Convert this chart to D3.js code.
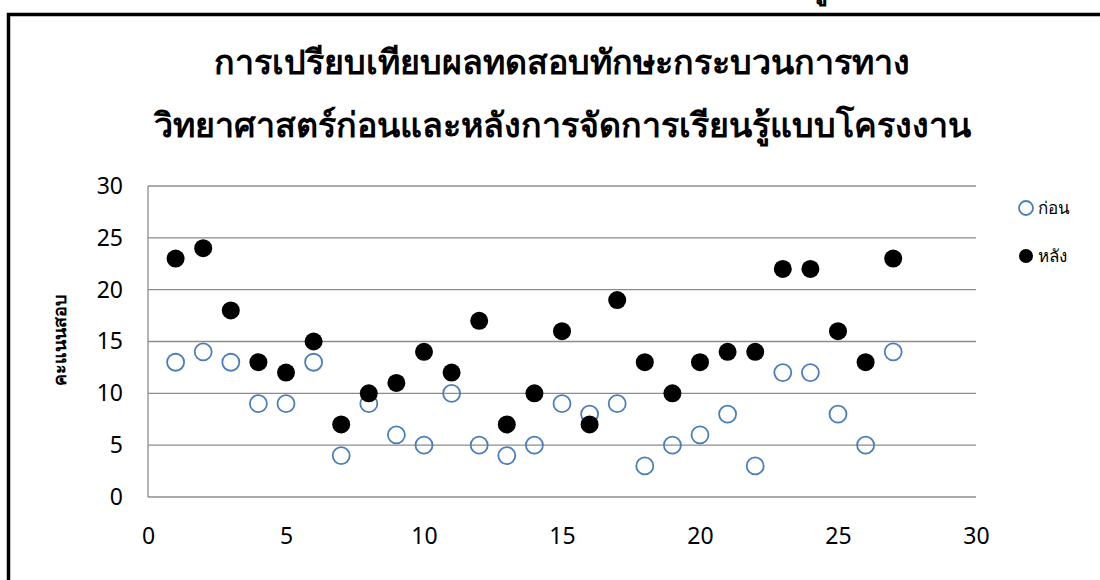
<!DOCTYPE html>
<html lang="th">
<head>
<meta charset="UTF-8">
<title>Scatter</title>
<script src="https://d3js.org/d3.v7.min.js"></script>
<style>
  body { margin: 0; background: #fff; }
  text { font-family: "Noto Sans", "DejaVu Sans", sans-serif; }
</style>
</head>
<body>
<script>
// data
var students = d3.range(1, 28);
var before = [13, 14, 13, 9, 9, 13, 4, 9, 6, 5, 10, 5, 4, 5, 9, 8, 9, 3, 5, 6, 8, 3, 12, 12, 8, 5, 14];
var after  = [23, 24, 18, 13, 12, 15, 7, 10, 11, 14, 12, 17, 7, 10, 16, 7, 19, 13, 10, 13, 14, 14, 22, 22, 16, 13, 23];
var xTicks = [0, 5, 10, 15, 20, 25, 30];
var yTicks = [0, 5, 10, 15, 20, 25, 30];
var seriesNames = ["ก่อน", "หลัง"];
var titleLines = ["การเปรียบเทียบผลทดสอบทักษะกระบวนการทาง", "วิทยาศาสตร์ก่อนและหลังการจัดการเรียนรู้แบบโครงงาน"];

var W = 1100, H = 580;
var svg = d3.select("body").append("svg").attr("width", W).attr("height", H);

// frame (bottom is cut off in the original)
svg.append("path")
    .attr("d", "M8.5,580 V14.5 H1100")
    .attr("fill", "none").attr("stroke", "#000").attr("stroke-width", 3.5);
// bit of text from above the frame, mostly cut off
svg.append("text").attr("x", 812).attr("y", -2).attr("font-size", 30).attr("font-weight", "bold")
    .text("รู้");

var x = d3.scaleLinear().domain([0, 30]).range([148, 976]);
var y = d3.scaleLinear().domain([0, 30]).range([497, 186]);

// title
svg.selectAll(".title").data(titleLines).enter().append("text")
    .attr("x", 562).attr("y", function(d, i) { return 74 + i * 63; })
    .attr("text-anchor", "middle").attr("font-size", 34).attr("font-weight", "bold")
    .text(function(d) { return d; });

// horizontal gridlines
svg.selectAll(".grid").data(yTicks).enter().append("line")
    .attr("x1", x(0)).attr("x2", x(30))
    .attr("y1", function(d) { return y(d); }).attr("y2", function(d) { return y(d); })
    .attr("stroke", "#8c8c8c").attr("stroke-width", 1.3);

svg.append("line").attr("x1", x(0)).attr("x2", x(0)).attr("y1", y(30)).attr("y2", y(0))
    .attr("stroke", "#8c8c8c").attr("stroke-width", 1.3);

// axes
var yAxis = svg.append("g").attr("transform", "translate(" + x(0) + ",0)")
    .call(d3.axisLeft(y).tickValues(yTicks).tickSize(0).tickPadding(25));
var xAxis = svg.append("g").attr("transform", "translate(0," + y(0) + ")")
    .call(d3.axisBottom(x).tickValues(xTicks).tickSize(0).tickPadding(31));
[yAxis, xAxis].forEach(function(a) {
  a.select(".domain").remove();
  a.selectAll("text").attr("font-size", 23).attr("fill", "#000")
      .attr("font-family", "\"Noto Sans\", \"DejaVu Sans\", sans-serif");
});

// y label
svg.append("text").attr("transform", "translate(66,340) rotate(-90)")
    .attr("text-anchor", "middle").attr("font-size", 18).attr("font-weight", "bold")
    .text("คะแนนสอบ");

// points
svg.selectAll(".before").data(students).enter().append("circle")
    .attr("cx", function(d) { return x(d); })
    .attr("cy", function(d, i) { return y(before[i]); })
    .attr("r", 8.5).attr("fill", "none").attr("stroke", "#4a7ebb").attr("stroke-width", 1.8);
svg.selectAll(".after").data(students).enter().append("circle")
    .attr("cx", function(d) { return x(d); })
    .attr("cy", function(d, i) { return y(after[i]); })
    .attr("r", 9).attr("fill", "#000");

// legend
var leg = svg.selectAll(".leg").data(seriesNames).enter().append("g")
    .attr("transform", function(d, i) { return "translate(1026," + (208 + i * 48) + ")"; });
leg.append("circle").attr("r", 7)
    .attr("fill", function(d, i) { return i ? "#000" : "none"; })
    .attr("stroke", function(d, i) { return i ? "none" : "#4a7ebb"; })
    .attr("stroke-width", 1.8);
leg.append("text").attr("x", 12).attr("y", 6).attr("font-size", 17)
    .text(function(d) { return d; });
</script>
</body>
</html>
